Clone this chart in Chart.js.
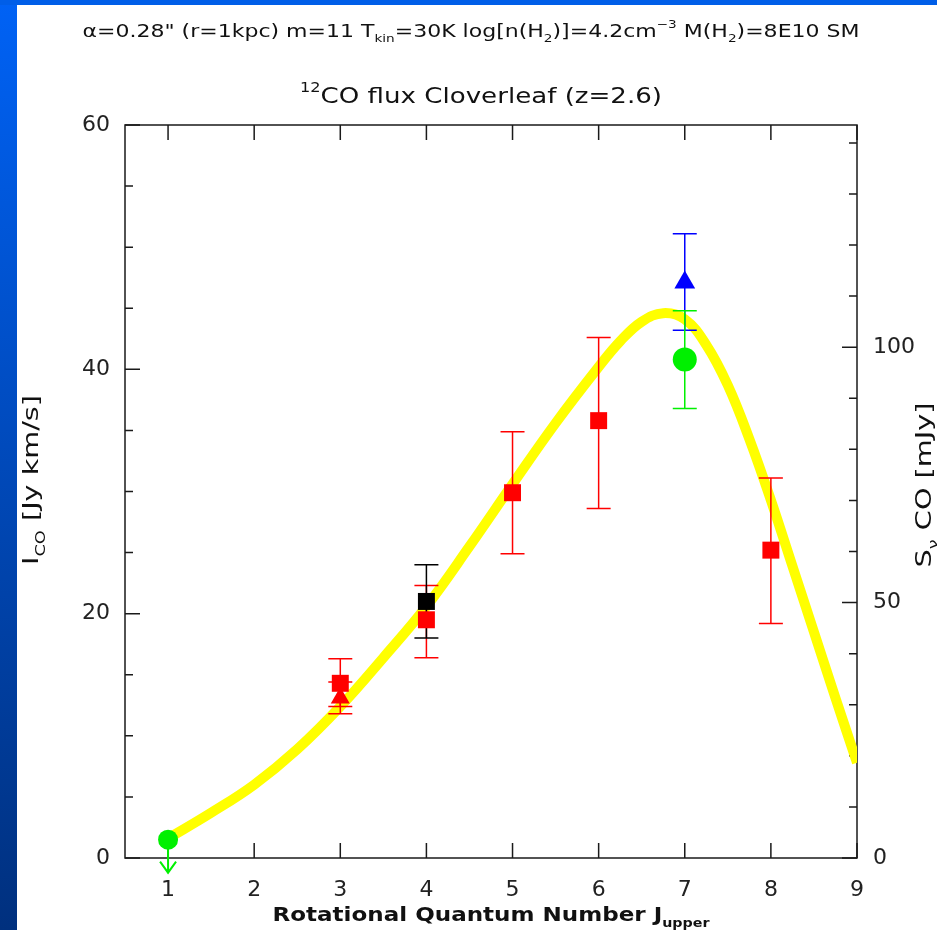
<!DOCTYPE html>
<html>
<head>
<meta charset="utf-8">
<script src="https://cdn.jsdelivr.net/npm/chart.js@4"></script>
<style>
html, body { margin: 0; padding: 0; background: #fff; overflow: hidden; }
</style>
</head>
<body>
<canvas id="myChart" width="937" height="930"></canvas>
<script>
// tick values
var xTicks = [1, 2, 3, 4, 5, 6, 7, 8, 9];
var yTicks = [0, 20, 40, 60];
var yMinorTicks = [5, 10, 15, 25, 30, 35, 45, 50, 55];
var y2Ticks = [0, 50, 100];
var y2MinorTicks = [10, 20, 30, 40, 60, 70, 80, 90, 110, 120, 130, 140];

// model curve (yellow)
var modelJ = [1, 1.5, 2, 2.5, 3, 3.5, 4, 4.5, 5, 5.5, 6, 6.25, 6.5, 6.75, 7, 7.25, 7.5, 7.75, 8, 8.25, 8.5, 8.75, 9];
var modelFlux = [1.6, 3.7, 6.0, 8.9, 12.4, 16.4, 20.6, 25.5, 30.6, 35.6, 40.2, 42.3, 43.9, 44.6, 44.1, 42.0, 38.7, 34.3, 29.3, 23.9, 18.5, 13.1, 7.8];

// observations
var redSqJ = [3, 4, 5, 6, 8];
var redSqFlux = [14.3, 19.5, 29.9, 35.8, 25.2];
var redSqLo = [12.4, 16.4, 24.9, 28.6, 19.2];
var redSqHi = [16.3, 22.3, 34.9, 42.6, 31.1];

var redTriJ = [3];
var redTriFlux = [13.1];
var redTriLo = [11.8];
var redTriHi = [14.4];

var blackSqJ = [4];
var blackSqFlux = [21.0];
var blackSqLo = [18.0];
var blackSqHi = [24.0];

var blueTriJ = [7];
var blueTriFlux = [47.1];
var blueTriLo = [43.2];
var blueTriHi = [51.1];

var greenJ = [1, 7];
var greenFlux = [1.5, 40.8];
var greenLo = [null, 36.8];
var greenHi = [null, 44.8];
var greenUpperLimit = [true, false];

function pts(xs, ys) {
    return xs.map(function (x, i) { return {x: x, y: ys[i]}; });
}

var FONT = '"DejaVu Sans", Verdana, sans-serif';

// text with sub/superscripts, centred on (x, y), stretched to a given width
function drawRich(ctx, segs, x, y, size, width, weight) {
    weight = weight || 'normal';
    var total = 0;
    segs.forEach(function (s) {
        s.sz = s.sub || s.sup ? size * 0.62 : size;
        ctx.font = weight + ' ' + s.sz + 'px ' + FONT;
        s.w = ctx.measureText(s.t).width;
        total += s.w;
    });
    ctx.save();
    ctx.translate(x, y);
    ctx.scale(width / total, 1);
    ctx.textAlign = 'left';
    ctx.textBaseline = 'alphabetic';
    var cx = -total / 2;
    segs.forEach(function (s) {
        ctx.font = weight + ' ' + s.sz + 'px ' + FONT;
        var dy = s.sub ? size * 0.3 : (s.sup ? -size * 0.5 : 0);
        ctx.fillText(s.t, cx, dy);
        cx += s.w;
    });
    ctx.restore();
}

var decorPlugin = {
    id: 'decor',
    beforeDraw: function (chart) {
        var ctx = chart.ctx;
        ctx.save();
        var g = ctx.createLinearGradient(0, 0, 0, chart.height);
        g.addColorStop(0, '#0062f5');
        g.addColorStop(1, '#00307e');
        ctx.fillStyle = g;
        ctx.fillRect(0, 0, 17, chart.height);
        ctx.fillStyle = '#005ee8';
        ctx.fillRect(0, 0, chart.width, 5);
        ctx.restore();
    },
    beforeDatasetsDraw: function (chart) {
        var ctx = chart.ctx, a = chart.chartArea;
        var sx = chart.scales.x, sy = chart.scales.y, sy2 = chart.scales.y2;
        ctx.save();
        ctx.strokeStyle = '#1a1a1a';
        ctx.lineWidth = 1.5;
        ctx.strokeRect(a.left, a.top, a.right - a.left, a.bottom - a.top);
        ctx.beginPath();
        xTicks.forEach(function (v) {
            var px = sx.getPixelForValue(v);
            ctx.moveTo(px, a.bottom); ctx.lineTo(px, a.bottom - 15);
            ctx.moveTo(px, a.top); ctx.lineTo(px, a.top + 15);
        });
        yTicks.forEach(function (v) {
            var py = sy.getPixelForValue(v);
            ctx.moveTo(a.left, py); ctx.lineTo(a.left + 15, py);
        });
        yMinorTicks.forEach(function (v) {
            var py = sy.getPixelForValue(v);
            ctx.moveTo(a.left, py); ctx.lineTo(a.left + 8, py);
        });
        y2Ticks.forEach(function (v) {
            var py = sy2.getPixelForValue(v);
            ctx.moveTo(a.right, py); ctx.lineTo(a.right - 15, py);
        });
        y2MinorTicks.forEach(function (v) {
            var py = sy2.getPixelForValue(v);
            ctx.moveTo(a.right, py); ctx.lineTo(a.right - 8, py);
        });
        ctx.stroke();
        ctx.restore();
    },
    afterDatasetDraw: function (chart, args) {
        if (args.index !== 0) return; // after the model curve, before the markers
        var ctx = chart.ctx;
        var sx = chart.scales.x, sy = chart.scales.y;
        function bars(xs, lo, hi, color) {
            ctx.strokeStyle = color;
            ctx.lineWidth = 1.5;
            ctx.beginPath();
            xs.forEach(function (x, i) {
                if (lo[i] == null) return;
                var px = sx.getPixelForValue(x);
                var p1 = sy.getPixelForValue(lo[i]);
                var p2 = sy.getPixelForValue(hi[i]);
                ctx.moveTo(px, p1); ctx.lineTo(px, p2);
                ctx.moveTo(px - 12, p1); ctx.lineTo(px + 12, p1);
                ctx.moveTo(px - 12, p2); ctx.lineTo(px + 12, p2);
            });
            ctx.stroke();
        }
        ctx.save();
        bars(redSqJ, redSqLo, redSqHi, '#ff0000');
        bars(redTriJ, redTriLo, redTriHi, '#ff0000');
        bars(blackSqJ, blackSqLo, blackSqHi, '#000000');
        bars(blueTriJ, blueTriLo, blueTriHi, '#0000ff');
        bars(greenJ, greenLo, greenHi, '#00f000');
        // upper limit arrows
        ctx.strokeStyle = '#00f000';
        ctx.lineWidth = 2;
        ctx.beginPath();
        greenJ.forEach(function (x, i) {
            if (!greenUpperLimit[i]) return;
            var px = sx.getPixelForValue(x);
            var py = sy.getPixelForValue(greenFlux[i]);
            var tip = py + 33;
            ctx.moveTo(px, py); ctx.lineTo(px, tip);
            ctx.moveTo(px - 8, tip - 11); ctx.lineTo(px, tip); ctx.lineTo(px + 8, tip - 11);
        });
        ctx.stroke();
        ctx.restore();
    },
    afterDraw: function (chart) {
        var ctx = chart.ctx;
        ctx.save();
        ctx.fillStyle = '#111';
        drawRich(ctx, [
            {t: 'α=0.28" (r=1kpc) m=11 T'}, {t: 'kin', sub: true},
            {t: '=30K log[n(H'}, {t: '2', sub: true},
            {t: ')]=4.2cm'}, {t: '−3', sup: true},
            {t: ' M(H'}, {t: '2', sub: true}, {t: ')=8E10 SM'}
        ], 471, 37, 18, 777);
        drawRich(ctx, [{t: '12', sup: true}, {t: 'CO flux Cloverleaf (z=2.6)'}], 481, 103, 22, 362);
        drawRich(ctx, [{t: 'Rotational Quantum Number J'}, {t: 'upper', sub: true}], 491, 921, 20, 437, 'bold');
        ctx.save();
        ctx.translate(38, 480);
        ctx.rotate(-Math.PI / 2);
        drawRich(ctx, [{t: 'I'}, {t: 'CO', sub: true}, {t: ' [Jy km/s]'}], 0, 0, 22, 170);
        ctx.restore();
        ctx.save();
        ctx.translate(931, 485);
        ctx.rotate(-Math.PI / 2);
        drawRich(ctx, [{t: 'S'}, {t: 'ν', sub: true}, {t: ' CO [mJy]'}], 0, 0, 21, 165);
        ctx.restore();
        ctx.restore();
    }
};

var tickFont = {family: FONT, size: 22};

var chart = new Chart(document.getElementById('myChart').getContext('2d'), {
    data: {
        datasets: [
            {
                type: 'line', data: pts(modelJ, modelFlux),
                borderColor: '#ffff00', borderWidth: 10, pointRadius: 0,
                tension: 0.4, order: 10, yAxisID: 'y'
            },
            {
                type: 'scatter', data: pts(redTriJ, redTriFlux), pointStyle: 'triangle',
                pointRadius: 11, backgroundColor: '#ff0000', borderWidth: 0, order: 5
            },
            {
                type: 'scatter', data: pts(redSqJ, redSqFlux), pointStyle: 'rect',
                pointRadius: 12, backgroundColor: '#ff0000', borderWidth: 0, order: 4
            },
            {
                type: 'scatter', data: pts(blackSqJ, blackSqFlux), pointStyle: 'rect',
                pointRadius: 12, backgroundColor: '#000000', borderWidth: 0, order: 3
            },
            {
                type: 'scatter', data: pts(blueTriJ, blueTriFlux), pointStyle: 'triangle',
                pointRadius: 12, backgroundColor: '#0000ff', borderWidth: 0, order: 2
            },
            {
                type: 'scatter', data: pts(greenJ, greenFlux), pointStyle: 'circle',
                pointRadius: [10, 12], backgroundColor: '#00f000', borderWidth: 0, order: 1
            }
        ]
    },
    options: {
        responsive: false,
        animation: false,
        layout: {padding: {top: 125, left: 0, right: 0, bottom: 0}},
        plugins: {legend: {display: false}, tooltip: {enabled: false}},
        scales: {
            x: {
                type: 'linear', min: 0.5, max: 9,
                grid: {display: false}, border: {display: false},
                ticks: {font: tickFont, color: '#222', padding: 11},
                afterBuildTicks: function (s) { s.ticks = xTicks.map(function (v) { return {value: v}; }); },
                afterFit: function (s) { s.height = 72; }
            },
            y: {
                type: 'linear', position: 'left', min: 0, max: 60,
                grid: {display: false}, border: {display: false},
                ticks: {font: tickFont, color: '#222', padding: 7},
                afterBuildTicks: function (s) { s.ticks = yTicks.map(function (v) { return {value: v}; }); },
                afterFit: function (s) { s.width = 125; }
            },
            y2: {
                type: 'linear', position: 'right', min: 0, max: 143.5,
                grid: {display: false}, border: {display: false},
                ticks: {font: tickFont, color: '#222', padding: 8},
                afterBuildTicks: function (s) { s.ticks = y2Ticks.map(function (v) { return {value: v}; }); },
                afterFit: function (s) { s.width = 80; }
            }
        }
    },
    plugins: [decorPlugin]
});
</script>
</body>
</html>
